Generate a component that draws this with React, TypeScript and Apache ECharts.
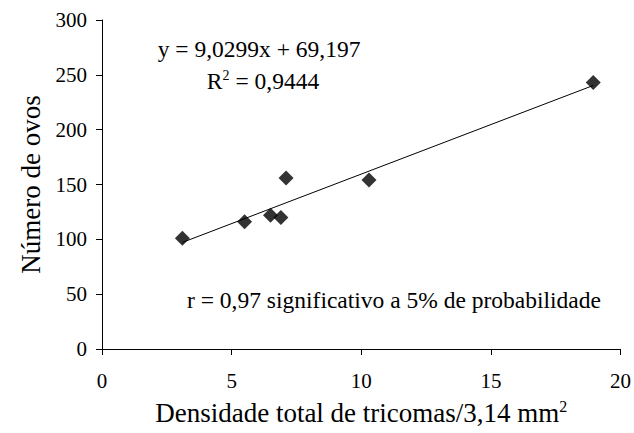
import React, { useEffect, useRef } from "react";
import * as echarts from "echarts";

const densidade = [3.1, 5.5, 6.5, 6.9, 7.1, 10.3, 18.95];
const ovos = [101, 116, 122, 120, 156, 154, 243];
const slope = 9.0299;
const intercept = 69.197;
const trendX = [3.1, 18.95];
const xTicks = [0, 5, 10, 15, 20];
const yTicks = [0, 50, 100, 150, 200, 250, 300];

const FONT = "'Liberation Serif', 'Times New Roman', serif";

export default function App() {
  const ref = useRef<HTMLDivElement>(null);
  useEffect(() => {
    if (!ref.current) return;
    const chart = echarts.init(ref.current, null, { renderer: "svg" });
    const pts = densidade.map((x, i) => [x, ovos[i]]);
    const trend = trendX.map((x) => [x, slope * x + intercept]);
    chart.setOption({
      animation: false,
      backgroundColor: "#fff",
      grid: { left: 102, right: 10, top: 20, bottom: 84 },
      xAxis: {
        type: "value",
        min: xTicks[0],
        max: xTicks[xTicks.length - 1],
        interval: 5,
        splitLine: { show: false },
        axisLine: { lineStyle: { color: "#000", width: 1 } },
        axisTick: { show: true, length: 6, lineStyle: { color: "#000" } },
        axisLabel: { color: "#000", fontFamily: FONT, fontSize: 21, margin: 21 },
        name: "{n|Densidade total de tricomas/3,14 mm}{s|2}",
        nameLocation: "middle",
        nameGap: 49,
        nameTextStyle: {
          color: "#000",
          fontFamily: FONT,
          fontSize: 27,
          rich: {
            n: { fontFamily: FONT, fontSize: 27, color: "#000", lineHeight: 30 },
            s: { fontFamily: FONT, fontSize: 16, color: "#000", verticalAlign: "top", lineHeight: 30 },
          },
        },
      },
      yAxis: {
        type: "value",
        min: yTicks[0],
        max: yTicks[yTicks.length - 1],
        interval: 50,
        splitLine: { show: false },
        axisLine: { show: true, lineStyle: { color: "#000", width: 1 } },
        axisTick: { show: true, length: 6, lineStyle: { color: "#000" } },
        axisLabel: { color: "#000", fontFamily: FONT, fontSize: 21, margin: 15 },
        name: "Número de ovos",
        nameLocation: "middle",
        nameGap: 56,
        nameTextStyle: { color: "#000", fontFamily: FONT, fontSize: 27 },
      },
      series: [
        {
          type: "line",
          data: trend,
          symbol: "none",
          lineStyle: { color: "#000", width: 1 },
          silent: true,
        },
        {
          type: "scatter",
          data: pts,
          symbol: "diamond",
          symbolSize: 15,
          itemStyle: { color: "#000" },
        },
      ],
      graphic: [
        {
          type: "text",
          x: 259,
          y: 49,
          style: {
            text: "y = 9,0299x + 69,197",
            fontFamily: FONT,
            fontSize: 23.5,
            fill: "#000",
            align: "center",
            verticalAlign: "middle",
          },
        },
        {
          type: "text",
          x: 263,
          y: 81,
          style: {
            text: "{n|R}{s|2}{n| = 0,9444}",
            fontFamily: FONT,
            fontSize: 23.5,
            fill: "#000",
            align: "center",
            verticalAlign: "middle",
            rich: {
              n: { fontFamily: FONT, fontSize: 23.5, fill: "#000", lineHeight: 26 },
              s: { fontFamily: FONT, fontSize: 14, fill: "#000", verticalAlign: "top", lineHeight: 26 },
            },
          },
        },
        {
          type: "text",
          x: 394,
          y: 300,
          style: {
            text: "r = 0,97 significativo a 5% de probabilidade",
            fontFamily: FONT,
            fontSize: 23.5,
            fill: "#000",
            align: "center",
            verticalAlign: "middle",
          },
        },
      ],
    });
    return () => chart.dispose();
  }, []);
  return <div ref={ref} style={{ width: 634, height: 433, position: "absolute", left: 0, top: 0 }} />;
}
